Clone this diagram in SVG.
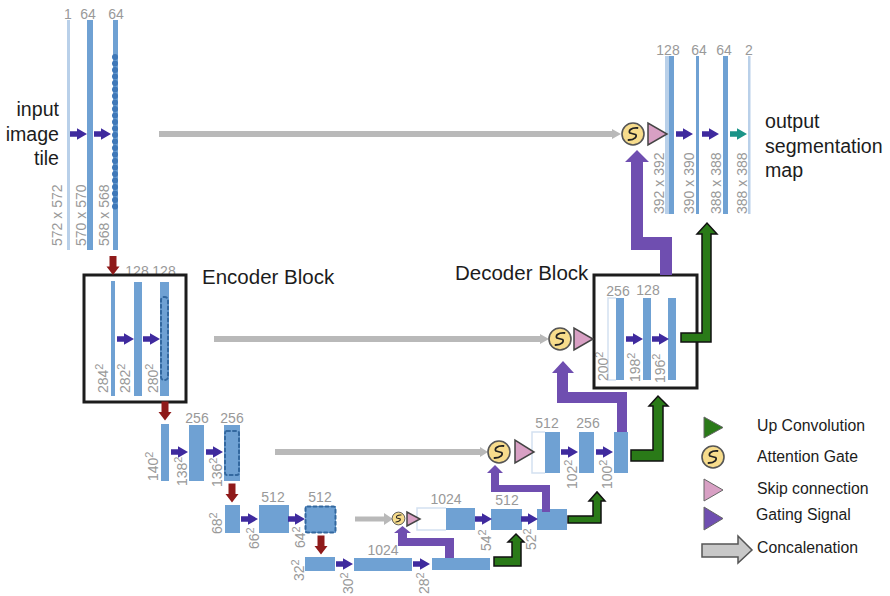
<svg xmlns="http://www.w3.org/2000/svg" width="890" height="596" viewBox="0 0 890 596">
<style>
text{font-family:"Liberation Sans",Arial,sans-serif}
.d{fill:#999;font-size:14px}
.m{text-anchor:middle}
.sup{font-size:11px}
.k{fill:#1c1c1c;font-size:19.6px}
.h{fill:#1c1c1c;font-size:20.5px}
.l{fill:#1c1c1c;font-size:15.8px}
.b{fill:#6fa1d3}
.t{fill:#b9d0e9}
.g{fill:none;stroke:#d3e1f1;stroke-width:1.5}
.dash{fill:none;stroke:#33689f;stroke-width:2;stroke-dasharray:3 3;stroke-linecap:round}
.blk{fill:none;stroke:#1c1c1c;stroke-width:3}
.pa{fill:#3f2a9e}
.ta{fill:#1a9488}
.ra{fill:#8f1a1a}
.wp{fill:#6f4eb0}
.wg{fill:#2a7a18;stroke:#111;stroke-width:1.5}
.gl{fill:#b9b9b9}
.pk{fill:#d8a0c4;stroke:#444;stroke-width:1.5}
.gt{fill:#f7dc8c;stroke:#555;stroke-width:1.6}
.gs{fill:none;stroke:#222;stroke-width:1.8;stroke-linejoin:round;stroke-linecap:round}
</style>
<defs>
<path id="arr" d="M0,-2.800H7V-5.800L17,0L7,5.800V2.800H0Z"/>
<path id="red" d="M-3.500,-9.500H3.500V1H6.500L0,9.500L-6.500,1H-3.500Z"/>
<g id="gate"><circle class="gt" r="11"/><path class="gs" d="M4.500,-6C-2,-6.500 -5,-3 -3,-1L2.500,0.500C4.500,2 2,6 -4.500,6"/></g>
</defs>

<g id="input-label"><text class="k" text-anchor="end" x="59" y="116">input</text><text class="k" text-anchor="end" x="59" y="141">image</text><text class="k" text-anchor="end" x="59" y="165">tile</text></g>
<g id="output-label"><text class="k" x="765" y="128">output</text><text class="k" x="765" y="153">segmentation</text><text class="k" x="765" y="177">map</text></g>
<text class="h" x="202" y="284">Encoder Block</text>
<text class="h" x="455" y="280">Decoder Block</text>

<g id="enc-1">
<rect class="t" x="67" y="20" width="3" height="230"/><rect class="b" x="87" y="20" width="6" height="230"/><rect class="b" x="113" y="20" width="5" height="230"/>
<line x1="115" y1="57" x2="115" y2="213" stroke="#3f78b8" stroke-width="6" stroke-linecap="round" stroke-dasharray="0 6.5"/>
<text class="d m" x="68" y="19">1</text><text class="d m" x="88" y="19">64</text><text class="d m" x="116" y="19">64</text>
<text class="d" transform="translate(62,246) rotate(-90)">572 x 572</text><text class="d" transform="translate(86,246) rotate(-90)">570 x 570</text><text class="d" transform="translate(109,246) rotate(-90)">568 x 568</text>
</g>
<g id="enc-2">
<rect class="b" x="111" y="281" width="4" height="115"/><rect class="b" x="134" y="282" width="8" height="114"/><rect class="b" x="160" y="282" width="9" height="114"/>
<rect class="dash" x="161" y="297" width="7" height="83" rx="3"/>
<text class="d m" x="137" y="276">128</text><text class="d m" x="164" y="276">128</text>
<text class="d" transform="translate(108,393) rotate(-90)">284<tspan class="sup" dy="-5">2</tspan></text>
<text class="d" transform="translate(130,393) rotate(-90)">282<tspan class="sup" dy="-5">2</tspan></text>
<text class="d" transform="translate(158,393) rotate(-90)">280<tspan class="sup" dy="-5">2</tspan></text>
<rect class="blk" x="84" y="275" width="102" height="127"/>
</g>
<g id="enc-3">
<rect class="b" x="161" y="424" width="8" height="57"/><rect class="b" x="189" y="425" width="15" height="56"/><rect class="b" x="224" y="425" width="16" height="56"/>
<rect class="dash" x="225" y="431" width="14" height="44" rx="2"/>
<text class="d m" x="197" y="423">256</text><text class="d m" x="232" y="423">256</text>
<text class="d" transform="translate(158,481) rotate(-90)">140<tspan class="sup" dy="-5">2</tspan></text>
<text class="d" transform="translate(187,486) rotate(-90)">138<tspan class="sup" dy="-5">2</tspan></text>
<text class="d" transform="translate(222,487) rotate(-90)">136<tspan class="sup" dy="-5">2</tspan></text>
</g>
<g id="enc-4">
<rect class="b" x="225" y="505" width="15" height="28"/><rect class="b" x="259" y="505" width="30" height="28"/><rect class="b" x="305" y="506" width="31" height="27"/>
<rect class="dash" x="305.500" y="506.500" width="30" height="26" rx="2"/>
<text class="d m" x="273" y="502">512</text><text class="d m" x="320" y="502">512</text>
<text class="d" transform="translate(222,534) rotate(-90)">68<tspan class="sup" dy="-5">2</tspan></text>
<text class="d" transform="translate(259,549) rotate(-90)">66<tspan class="sup" dy="-5">2</tspan></text>
<text class="d" transform="translate(305,548) rotate(-90)">64<tspan class="sup" dy="-5">2</tspan></text>
</g>
<g id="bottleneck">
<rect class="b" x="305" y="557" width="30" height="14"/><rect class="b" x="354" y="558" width="58" height="13"/><rect class="b" x="432" y="558" width="58" height="12"/>
<text class="d m" x="383" y="555">1024</text>
<text class="d" transform="translate(304,581) rotate(-90)">32<tspan class="sup" dy="-5">2</tspan></text>
<text class="d" transform="translate(353,594) rotate(-90)">30<tspan class="sup" dy="-5">2</tspan></text>
<text class="d" transform="translate(429,594) rotate(-90)">28<tspan class="sup" dy="-5">2</tspan></text>
</g>
<g id="dec-4">
<path class="g" d="M446,508H417V530H446"/>
<rect class="b" x="446" y="508" width="29" height="22"/><rect class="b" x="491" y="509" width="31" height="21"/><rect class="b" x="537" y="509" width="30" height="21"/>
<text class="d m" x="446" y="504">1024</text><text class="d m" x="507" y="505">512</text>
<text class="d" transform="translate(491,551) rotate(-90)">54<tspan class="sup" dy="-5">2</tspan></text>
<text class="d" transform="translate(536,550) rotate(-90)">52<tspan class="sup" dy="-5">2</tspan></text>
</g>
<g id="dec-3">
<path class="g" d="M545,432H532V473H545"/>
<rect class="b" x="545" y="432" width="15" height="41"/><rect class="b" x="579" y="432" width="15" height="41"/><rect class="b" x="614" y="432" width="14" height="41"/>
<text class="d m" x="547" y="428">512</text><text class="d m" x="588" y="428">256</text>
<text class="d" transform="translate(577,489) rotate(-90)">102<tspan class="sup" dy="-5">2</tspan></text>
<text class="d" transform="translate(612,489) rotate(-90)">100<tspan class="sup" dy="-5">2</tspan></text>
</g>
<g id="dec-2">
<path class="g" d="M616,298H608V380H616"/>
<rect class="b" x="616" y="298" width="8" height="82"/><rect class="b" x="643" y="298" width="8" height="82"/><rect class="b" x="668" y="298" width="8" height="82"/>
<text class="d m" x="618" y="296">256</text><text class="d m" x="648" y="295">128</text>
<text class="d" transform="translate(608,381) rotate(-90)">200<tspan class="sup" dy="-5">2</tspan></text>
<text class="d" transform="translate(640,382) rotate(-90)">198<tspan class="sup" dy="-5">2</tspan></text>
<text class="d" transform="translate(665,383) rotate(-90)">196<tspan class="sup" dy="-5">2</tspan></text>
<rect class="blk" x="594" y="275" width="103" height="113"/>
</g>
<g id="dec-1">
<rect class="t" x="665" y="56" width="9" height="158"/><rect class="b" x="669" y="56" width="5" height="158"/><rect class="b" x="696" y="56" width="3" height="158"/><rect class="b" x="723" y="56" width="5" height="158"/><rect class="t" x="748" y="56" width="2.500" height="158"/>
<text class="d m" x="668" y="55">128</text><text class="d m" x="699" y="55">64</text><text class="d m" x="724" y="55">64</text><text class="d m" x="749" y="55">2</text>
<text class="d" transform="translate(664,214) rotate(-90)">392 x 392</text><text class="d" transform="translate(694,214) rotate(-90)">390 x 390</text><text class="d" transform="translate(721,214) rotate(-90)">388 x 388</text><text class="d" transform="translate(747,214) rotate(-90)">388 x 388</text>
</g>

<g id="connectors">
<g class="gl">
<path d="M159,131H612V129L621,134L612,139V137H159Z"/>
<path d="M214,336H540V334L549,339L540,344V342H214Z"/>
<path d="M275,449H480V447L488,452L480,457V455H275Z"/>
<path d="M355,516.500H384V513L393,519L384,525V521.500H355Z"/>
</g>
<g class="pa">
<use href="#arr" x="70" y="134"/><use href="#arr" x="94" y="134"/>
<use href="#arr" x="117" y="339"/><use href="#arr" x="143" y="339"/>
<use href="#arr" x="171" y="452"/><use href="#arr" x="206" y="452"/>
<use href="#arr" x="241" y="519"/><use href="#arr" x="288" y="519"/>
<use href="#arr" x="336" y="564"/><use href="#arr" x="413" y="564"/>
<use href="#arr" x="475" y="519"/><use href="#arr" x="521" y="519"/>
<use href="#arr" x="561" y="452"/><use href="#arr" x="596" y="452"/>
<use href="#arr" x="626" y="339"/><use href="#arr" x="652" y="339"/>
<use href="#arr" x="676" y="134"/><use href="#arr" x="702" y="134"/>
</g>
<use class="ta" href="#arr" x="730" y="134"/>
<g class="ra">
<use href="#red" x="113" y="265.500"/><use href="#red" x="165" y="411"/><use href="#red" x="232" y="493"/><use href="#red" x="321" y="545"/>
</g>
<g class="wp">
<path d="M454,558V538H407V533H411L402.500,526L394,533H398V546H445V558Z"/>
<path d="M550,512V485H499V473H503L495,465L487,473H491V492H542V512Z"/>
<path d="M627,432V392H568V373H574L563,361L552,373H557V403H617V432Z"/>
<path d="M672,275V237H643V162H649L637,150L625,162H631V250H660V275Z"/>
</g>
<g class="wg">
<path d="M494,557H512V542H508L516,534L524,542H521V566H494Z"/>
<path d="M568,516H593V501H589L597,492L605,501H601V523H568Z"/>
<path d="M631,450H653V406H649L658,396L668,406H663V461H631Z"/>
<path d="M681,333H702V234H697L707,223L717,234H711V342H681Z"/>
</g>
</g>

<g id="gate-1"><use href="#gate" x="633" y="134"/><path class="pk" d="M648,123V145L667,134Z"/></g>
<g id="gate-2"><use href="#gate" x="560" y="339"/><path class="pk" d="M574,328V350L593,339Z"/></g>
<g id="gate-3"><use href="#gate" x="499" y="452"/><path class="pk" d="M515,440V463L534,452Z"/></g>
<g id="gate-4"><use href="#gate" transform="translate(398.500,518.500) scale(.58)"/><path class="pk" d="M407,512V526L420,519Z"/></g>

<g id="legend">
<path d="M704,417V438L723,427.500Z" fill="#2a7a18" stroke="#666" stroke-width="1"/><text class="l" x="757" y="431">Up Convolution</text>
<use href="#gate" x="713" y="457"/><text class="l" x="757" y="462">Attention Gate</text>
<path d="M704,479V501L723,490Z" fill="#d8a0c4" stroke="#666" stroke-width="1"/><text class="l" x="757" y="494">Skip connection</text>
<path d="M704,507V530L723,518.500Z" fill="#6f4eb0" stroke="#666" stroke-width="1"/><text class="l" x="756" y="520">Gating Signal</text>
<path d="M702,544H738V536L752,550L738,563V557H702Z" fill="#c8c8c8" stroke="#555" stroke-width="1.500"/><text class="l" x="757" y="553">Concalenation</text>
</g>
</svg>
